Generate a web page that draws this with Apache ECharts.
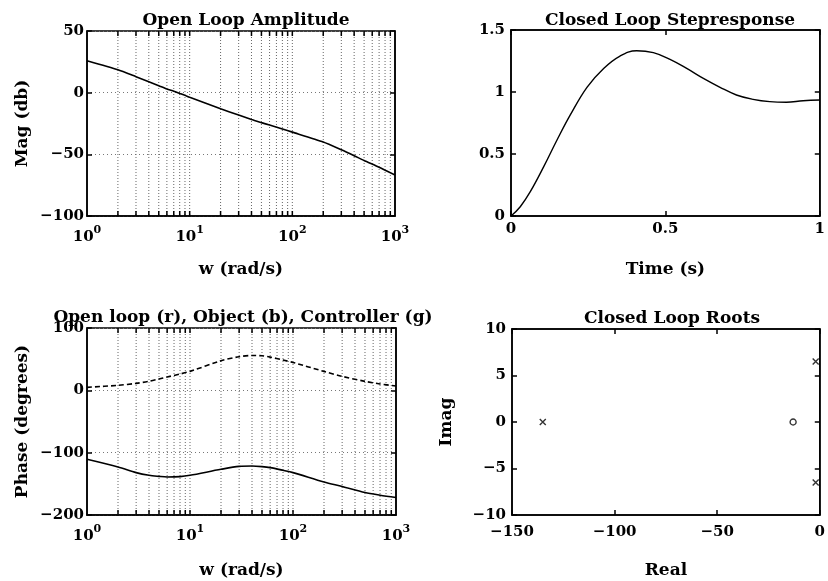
<!DOCTYPE html>
<html>
<head>
<meta charset="utf-8">
<script src="https://cdn.jsdelivr.net/npm/echarts@6/dist/echarts.min.js"></script>
<style>html,body{margin:0;padding:0;background:#fff}#c{width:828px;height:581px}</style>
</head>
<body>
<div id="c"></div>
<script>
// ---- data ----
var titles = ['Open Loop Amplitude', 'Closed Loop Stepresponse', 'Open loop (r), Object (b), Controller (g)', 'Closed Loop Roots'];
var xNames = ['w (rad/s)', 'Time (s)', 'w (rad/s)', 'Real'];
var yNames = ['Mag (db)', '', 'Phase (degrees)', 'Imag'];

var magW  = [1, 2, 3, 4, 5, 6, 7, 8, 9, 10, 20, 30, 40, 50, 60, 80, 100, 200, 300, 400, 500, 700, 1000];
var magDb = [25.9, 18.6, 13.0, 8.9, 5.7, 3.0, 1.2, -0.6, -2.2, -3.8, -13.0, -18.2, -21.8, -24.3, -26.3, -29.5, -32.0, -40.0, -46.3, -51.1, -55.0, -60.5, -66.8];

var phaseW     = [1, 2, 3, 4, 5, 6, 8, 10, 20, 30, 40, 50, 60, 80, 100, 200, 300, 500, 700, 1000];
var ctrlPhase  = [4.8, 8.0, 11.2, 14.4, 18.2, 21.4, 26.2, 30.4, 47.4, 54.0, 55.9, 55.4, 53.3, 48.6, 44.7, 30.4, 22.4, 14.4, 10.2, 7.0];
var openPhase  = [-110.7, -123.0, -132.0, -136.3, -138.0, -139.0, -138.4, -136.3, -126.7, -122.0, -121.4, -122.4, -124.0, -128.3, -132.0, -147.0, -154.3, -164.0, -168.2, -171.9];

var stepT = [0, 0.03, 0.0625, 0.106, 0.149, 0.192, 0.246, 0.3, 0.353, 0.407, 0.461, 0.515, 0.569, 0.623, 0.677, 0.73, 0.784, 0.838, 0.892, 0.946, 1];
var stepY = [0, 0.075, 0.196, 0.398, 0.613, 0.815, 1.038, 1.19, 1.29, 1.333, 1.317, 1.263, 1.19, 1.11, 1.038, 0.976, 0.941, 0.922, 0.917, 0.930, 0.935];

var poleRe = [-135, -2, -2];
var poleIm = [0, 6.5, -6.5];
var zeroRe = [-13];
var zeroIm = [0];

var logGridValues = [2,3,4,5,6,7,8,9,10,20,30,40,50,60,70,80,90,100,200,300,400,500,600,700,800,900];

// ---- helpers ----
var FF = 'DejaVu Serif';
function pairs(xs, ys) { return xs.map(function (x, i) { return [x, ys[i]]; }); }
var nameStyle = { color: '#000', fontFamily: FF, fontWeight: 'bold', fontSize: 17 };
var axLine = { show: true, onZero: false, lineStyle: { color: '#000', width: 1.5 } };
var inTick = { show: true, inside: true, length: 5, lineStyle: { color: '#000', width: 1.5 } };

function logXAxis(gi, name, gap) {
  return {
    type: 'log', logBase: 10, min: 1, max: 1000, gridIndex: gi,
    name: name, nameLocation: 'middle', nameGap: gap, nameTextStyle: nameStyle,
    axisLine: axLine, axisTick: { show: false }, splitLine: { show: false },
    axisLabel: {
      margin: 9,
      formatter: function (v) { return '{b|10}{s|' + Math.round(Math.log10(v)) + '}'; },
      rich: {
        b: { fontFamily: FF, fontWeight: 'bold', fontSize: 15, color: '#000', lineHeight: 20, verticalAlign: 'bottom' },
        s: { fontFamily: FF, fontWeight: 'bold', fontSize: 11, color: '#000', lineHeight: 14, verticalAlign: 'top' }
      }
    }
  };
}
function valAxis(gi, pos, min, max, interval, opts) {
  var a = {
    type: 'value', gridIndex: gi, position: pos, min: min, max: max, interval: interval,
    axisLine: axLine, axisTick: inTick, splitLine: { show: false },
    axisLabel: { show: true, margin: 6, color: '#000', fontFamily: FF, fontWeight: 'bold', fontSize: 15,
      formatter: function (v) { return String(v).replace('-', '\u2212'); } }
  };
  for (var k in opts) {
    if (k === 'labelMargin') a.axisLabel.margin = opts[k];
    else a[k] = opts[k];
  }
  return a;
}
function gridSeries(xi, yi) {
  return {
    type: 'custom', xAxisIndex: xi, yAxisIndex: yi, silent: true, z: 1,
    data: logGridValues.map(function (v) { return [v, 0]; }),
    encode: { x: 0, y: 1 },
    renderItem: function (params, api) {
      var x = api.coord([api.value(0), 0])[0];
      var cs = params.coordSys;
      return {
        type: 'group', children: [
          { type: 'line', shape: { x1: x, y1: cs.y, x2: x, y2: cs.y + cs.height },
            style: { stroke: '#666', lineWidth: 1, lineDash: [1, 2] } },
          { type: 'line', shape: { x1: x, y1: cs.y, x2: x, y2: cs.y + 5 },
            style: { stroke: '#000', lineWidth: 1.5 } },
          { type: 'line', shape: { x1: x, y1: cs.y + cs.height, x2: x, y2: cs.y + cs.height - 5 },
            style: { stroke: '#000', lineWidth: 1.5 } }
        ]
      };
    }
  };
}
var hDotted = { show: true, lineStyle: { color: '#777', width: 1, type: [1, 3] } };

var option = {
  animation: false,
  backgroundColor: '#fff',
  title: [
    { text: titles[0], left: 241, top: 7, textAlign: 'center', textStyle: nameStyle },
    { text: titles[1], left: 665, top: 7, textAlign: 'center', textStyle: nameStyle },
    { text: titles[2], left: 238, top: 304, textAlign: 'center', textStyle: nameStyle },
    { text: titles[3], left: 667, top: 305, textAlign: 'center', textStyle: nameStyle }
  ],
  grid: [
    { left: 87, top: 31, width: 308, height: 185, show: true, borderColor: '#000', borderWidth: 1.5 },
    { left: 511, top: 30, width: 309, height: 186, show: true, borderColor: '#000', borderWidth: 1.5 },
    { left: 87, top: 328, width: 309, height: 187, show: true, borderColor: '#000', borderWidth: 1.5 },
    { left: 512, top: 329, width: 308, height: 186, show: true, borderColor: '#000', borderWidth: 1.5 }
  ],
  xAxis: [
    logXAxis(0, xNames[0], 45),
    valAxis(1, 'bottom', 0, 1, 0.5, { name: xNames[1], nameLocation: 'middle', nameGap: 45, nameTextStyle: nameStyle }),
    valAxis(1, 'top', 0, 1, 0.5, { axisLabel: { show: false } }),
    logXAxis(2, xNames[2], 47),
    valAxis(3, 'bottom', -150, 0, 50, { name: xNames[3], nameLocation: 'middle', nameGap: 47, nameTextStyle: nameStyle, labelMargin: 10 }),
    valAxis(3, 'top', -150, 0, 50, { axisLabel: { show: false } })
  ],
  yAxis: [
    valAxis(0, 'left', -100, 50, 50, { name: yNames[0], nameLocation: 'middle', nameGap: 56, nameTextStyle: nameStyle, splitLine: hDotted, labelMargin: 3 }),
    valAxis(0, 'right', -100, 50, 50, { axisLabel: { show: false } }),
    valAxis(1, 'left', 0, 1.5, 0.5, {}),
    valAxis(1, 'right', 0, 1.5, 0.5, { axisLabel: { show: false } }),
    valAxis(2, 'left', -200, 100, 100, { name: yNames[2], nameLocation: 'middle', nameGap: 56, nameTextStyle: nameStyle, splitLine: hDotted, labelMargin: 3 }),
    valAxis(2, 'right', -200, 100, 100, { axisLabel: { show: false } }),
    valAxis(3, 'left', -10, 10, 5, { name: yNames[3], nameLocation: 'middle', nameGap: 57, nameTextStyle: nameStyle }),
    valAxis(3, 'right', -10, 10, 5, { axisLabel: { show: false } })
  ],
  series: [
    gridSeries(0, 0),
    { type: 'line', xAxisIndex: 0, yAxisIndex: 0, data: pairs(magW, magDb), smooth: 0.2, showSymbol: false,
      lineStyle: { color: '#000', width: 1.6 }, z: 3 },
    { type: 'line', xAxisIndex: 1, yAxisIndex: 2, data: pairs(stepT, stepY), smooth: 0.4, showSymbol: false,
      lineStyle: { color: '#000', width: 1.4 }, z: 3 },
    gridSeries(3, 4),
    { type: 'line', xAxisIndex: 3, yAxisIndex: 4, data: pairs(phaseW, ctrlPhase), smooth: 0.3, showSymbol: false,
      lineStyle: { color: '#000', width: 1.6, type: [5, 3] }, z: 3 },
    { type: 'line', xAxisIndex: 3, yAxisIndex: 4, data: pairs(phaseW, openPhase), smooth: 0.3, showSymbol: false,
      lineStyle: { color: '#000', width: 1.6 }, z: 3 },
    { type: 'scatter', xAxisIndex: 4, yAxisIndex: 6, data: pairs(poleRe, poleIm),
      symbol: 'path://M0,0L10,10M10,0L0,10', symbolSize: 6,
      itemStyle: { color: 'rgba(0,0,0,0)', borderColor: '#000', borderWidth: 1.4 }, z: 3 },
    { type: 'scatter', xAxisIndex: 4, yAxisIndex: 6, data: pairs(zeroRe, zeroIm),
      symbol: 'circle', symbolSize: 6,
      itemStyle: { color: '#fff', borderColor: '#000', borderWidth: 1.4 }, z: 3 }
  ]
};
var chart = echarts.init(document.getElementById('c'));
chart.setOption(option);
</script>
</body>
</html>
